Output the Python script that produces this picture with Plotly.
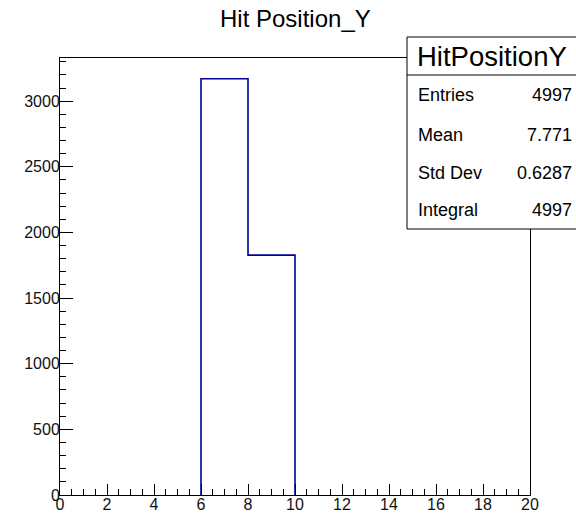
import plotly.graph_objects as go

# Histogram contents: 10 bins of width 2 over [0, 20]
bin_edges = [0, 2, 4, 6, 8, 10, 12, 14, 16, 18, 20]
bin_counts = [0, 0, 0, 3170, 1827, 0, 0, 0, 0, 0]

hist_name = "HitPositionY"
title_text = "Hit Position_Y"
stat_labels = ["Entries", "Mean", "Std Dev", "Integral"]
stat_values = ["4997", "7.771", "0.6287", "4997"]

W, H = 576, 515
L, R, T, B = 60, 46, 58, 20
PW, PH = W - L - R, H - T - B
FONT = "Liberation Sans, Arial, Helvetica, sans-serif"


def fx(px):
    return (px - L) / PW


def fy(py):
    return (H - B - py) / PH


# step outline of the filled part of the histogram (empty bins lie on the axis)
nz = [i for i, c in enumerate(bin_counts) if c > 0]
first, last = nz[0], nz[-1]
xs = [bin_edges[first]] + bin_edges[first:last + 2]
ys = [0] + bin_counts[first:last + 1] + [0]

fig = go.Figure()
fig.add_trace(go.Scatter(
    x=xs, y=ys, mode="lines", line_shape="hv",
    line=dict(color="#000099", width=1.6),
    hoverinfo="skip", showlegend=False,
))

ymax = max(bin_counts) * 1.05

axis_common = dict(
    showgrid=False, zeroline=False, showline=True, linecolor="black",
    linewidth=1, mirror=True, ticks="inside", tickcolor="black",
    tickwidth=1, tickfont=dict(family=FONT, size=16, color="#111111"),
    automargin=False, layer="above traces",
)

fig.update_xaxes(range=[0, 20], tick0=0, dtick=2, ticklen=11,
                 minor=dict(dtick=0.5, ticklen=6, ticks="inside", tickcolor="black"),
                 ticklabelstandoff=-5,
                 **axis_common)
fig.update_yaxes(range=[0, ymax], tick0=0, dtick=500, ticklen=13,
                 minor=dict(dtick=100, ticklen=6, ticks="inside", tickcolor="black"),
                 ticklabelstandoff=-4,
                 **axis_common)

# statistics box
bx0, bx1, by0, bdiv, by1 = 407, 580, 37, 75, 229
shapes = [
    dict(type="rect", xref="paper", yref="paper",
         x0=fx(bx0), x1=fx(bx1), y0=fy(by1), y1=fy(by0),
         line=dict(color="black", width=1), fillcolor="white", layer="above"),
    dict(type="line", xref="paper", yref="paper",
         x0=fx(bx0), x1=fx(bx1), y0=fy(bdiv), y1=fy(bdiv),
         line=dict(color="black", width=1), layer="above"),
]

annotations = [
    dict(text=title_text, xref="paper", yref="paper", x=fx(295), y=fy(19),
         xanchor="center", yanchor="middle", showarrow=False,
         font=dict(family=FONT, size=24, color="black")),
    dict(text=hist_name, xref="paper", yref="paper", x=fx(492), y=fy(56),
         xanchor="center", yanchor="middle", showarrow=False,
         font=dict(family=FONT, size=27.5, color="black")),
]
row_y = [95, 135, 173, 210]
for lab, val, ry in zip(stat_labels, stat_values, row_y):
    annotations.append(dict(text=lab, xref="paper", yref="paper", x=fx(416), y=fy(ry),
                            xanchor="left", yanchor="middle", showarrow=False,
                            font=dict(family=FONT, size=18, color="black")))
    annotations.append(dict(text=val, xref="paper", yref="paper", x=fx(574), y=fy(ry),
                            xanchor="right", yanchor="middle", showarrow=False,
                            font=dict(family=FONT, size=18, color="black")))

fig.update_layout(
    width=W, height=H, autosize=False,
    margin=dict(l=L, r=R, t=T, b=B),
    paper_bgcolor="white", plot_bgcolor="white",
    shapes=shapes, annotations=annotations,
    font=dict(family=FONT),
)

fig.write_html("out.html")
